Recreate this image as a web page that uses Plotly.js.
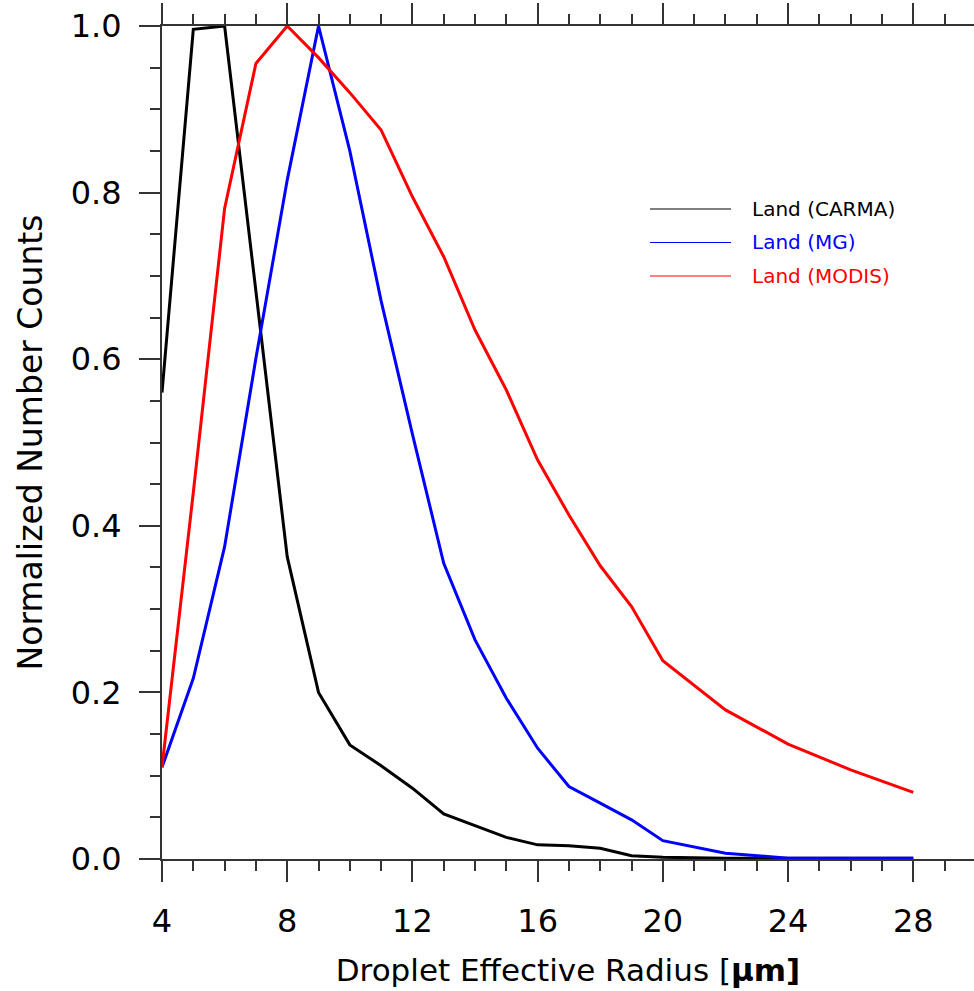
<!DOCTYPE html>
<html>
<head>
<meta charset="utf-8">
<script src="https://cdn.plot.ly/plotly-3.0.1.min.js"></script>
<style>html,body{margin:0;padding:0;background:#fff;}#chart{width:974px;height:991px;}</style>
</head>
<body>
<div id="chart"></div>
<script>
const radius = [4,5,6,7,8,9,10,11,12,13,14,15,16,17,18,19,20,22,24,26,28];
const carma  = [0.56,0.996,1.0,0.68,0.363,0.200,0.137,0.112,0.085,0.054,0.040,0.026,0.017,0.016,0.013,0.004,0.002,0.001,0.001,0.001,0.001];
const mg     = [0.110,0.217,0.375,0.601,0.815,1.0,0.850,0.670,0.510,0.355,0.263,0.193,0.133,0.087,0.067,0.047,0.022,0.007,0.001,0.001,0.001];
const modis  = [0.110,0.440,0.781,0.955,1.0,0.962,0.920,0.875,0.795,0.723,0.635,0.563,0.479,0.413,0.352,0.303,0.238,0.179,0.138,0.107,0.080];
const seriesNames = ['Land (CARMA)','Land (MG)','Land (MODIS)'];
const seriesColors = ['#000000','#0000ff','#ff0000'];
const xTickVals = [4,8,12,16,20,24,28];
const yTickVals = [0,0.2,0.4,0.6,0.8,1.0];
const yTickText = ['0.0','0.2','0.4','0.6','0.8','1.0'];

const FONT = 'DejaVu Sans, Liberation Sans, Arial, sans-serif';
const data = [carma, mg, modis].map((ys, i) => ({
  x: radius, y: ys, type: 'scatter', mode: 'lines', name: seriesNames[i],
  line: {color: seriesColors[i], width: 3}, showlegend: false
}));

const shapes = [], annotations = [];
seriesNames.forEach((nm, i) => {
  const yPix = 209 + i * 33.5;
  const yp = (991 - 132 - yPix) / (991 - 26 - 132);
  shapes.push({type:'line', xref:'paper', yref:'paper', x0:(650-162)/812, x1:(731-162)/812, y0:yp, y1:yp,
    line:{color:seriesColors[i], width:1}});
  annotations.push({xref:'paper', yref:'paper', x:(750-162)/812, y:yp, xanchor:'left', yanchor:'middle',
    text:nm, showarrow:false, font:{family:FONT, size:20, color:seriesColors[i]}});
});

const axisCommon = {
  showgrid:false, zeroline:false, showline:true, linecolor:'#333', linewidth:2,
  ticks:'outside', ticklen:21, tickwidth:2, tickcolor:'#333',
  tickfont:{family:FONT, size:32, color:'#000'}
};

const layout = {
  width:974, height:991,
  margin:{l:162, r:0, t:26, b:132, pad:0},
  paper_bgcolor:'#fff', plot_bgcolor:'#fff',
  xaxis: Object.assign({}, axisCommon, {
    range:[4, 29.94], tickvals:xTickVals, mirror:'allticks', ticklabelstandoff:12,
    minor:{dtick:1, tick0:4, ticks:'outside', ticklen:10, tickwidth:2, tickcolor:'#333'},
    title:{text:'Droplet Effective Radius [<b>μm]</b>', font:{family:FONT, size:31, color:'#000'}, standoff:20}
  }),
  yaxis: Object.assign({}, axisCommon, {
    range:[0, 1.0], tickvals:yTickVals, ticktext:yTickText, ticklabelstandoff:11,
    minor:{dtick:0.05, tick0:0, ticks:'outside', ticklen:10, tickwidth:2, tickcolor:'#333'},
    title:{text:'Normalized Number Counts', font:{family:FONT, size:33, color:'#000'}, standoff:18}
  }),
  shapes: shapes, annotations: annotations, showlegend:false
};
Plotly.newPlot('chart', data, layout, {displayModeBar:false, staticPlot:true});
</script>
</body>
</html>
